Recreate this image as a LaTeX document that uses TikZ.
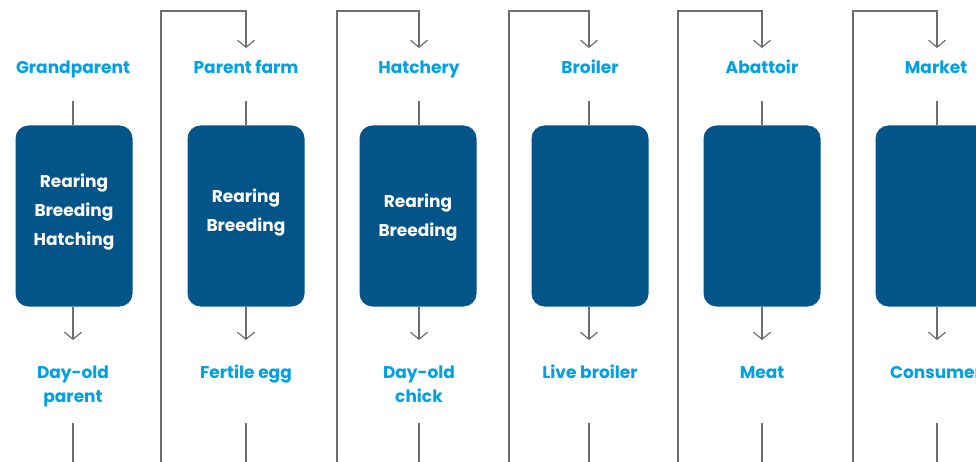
\documentclass[tikz,border=0pt]{standalone}
\usepackage{fontspec}
\setmainfont{Poppins}
\usetikzlibrary{arrows.meta,calc,positioning}
\definecolor{stagecyan}{RGB}{0,160,228}
\definecolor{boxblue}{RGB}{3,84,137}
\definecolor{linkgrey}{RGB}{110,110,110}
\tikzset{
  stage/.style={font=\bfseries\fontsize{17}{24}\selectfont, text=stagecyan,
                align=center, inner sep=0pt, anchor=base},
  procbox/.style={rectangle, rounded corners=13pt, fill=boxblue,
                  minimum width=117pt, minimum height=181pt},
  boxtext/.style={text=white, align=center,
                  font=\bfseries\fontsize{17}{29}\selectfont},
  link/.style={draw=linkgrey, line width=1.2pt},
  flow/.style={link, -{Straight Barb[length=7pt,width=17pt]}}
}

\begin{document}
\begin{tikzpicture}[x=1pt,y=-1pt]
  \path[use as bounding box, fill=white] (0,0) rectangle (976,462);
  \clip (0,0) rectangle (976,462);

  % stages along the top
  \node[stage] (st1) at (73,74) {Grandparent};
  \node[stage] (st2) at (246,74) {Parent farm};
  \node[stage] (st3) at (419,74) {Hatchery};
  \node[stage] (st4) at (590,74) {Broiler};
  \node[stage] (st5) at (762,74) {Abattoir};
  \node[stage] (st6) at (936,74) {Market};

  % what goes on at each stage
  \node[procbox, label={[boxtext, yshift=4pt]center:Rearing\\Breeding\\Hatching}]
    (pb1) at (74,216) {};
  \node[procbox, label={[boxtext, yshift=3pt]center:Rearing\\Breeding}]
    (pb2) at (246,216) {};
  \node[procbox, label={[boxtext, yshift=-2pt]center:Rearing\\Breeding}]
    (pb3) at (418,216) {};
  \node[procbox] (pb4) at (590,216) {};
  \node[procbox] (pb5) at (762,216) {};
  \node[procbox] (pb6) at (934,216) {};

  % products handed on (base = last line)
  \node[stage] (pr1) at (73,402) {Day-old\\parent};
  \node[stage] (pr2) at (246,378) {Fertile egg};
  \node[stage] (pr3) at (419,402) {Day-old\\chick};
  \node[stage] (pr4) at (590,378) {Live broiler};
  \node[stage] (pr5) at (762,378) {Meat};
  \node[stage] (pr6) at (936,378) {Consumer};

  % stubs above and below each box
  \foreach \i/\x in {1/73,2/246,3/419,4/589,5/762,6/937} {
    \coordinate (up\i) at (\x,101);
    \coordinate (tip\i) at (\x,340);
    \coordinate (dn\i) at (\x,423);
    \coordinate (end\i) at (\x,470);
    \draw[link] (up\i) -- (pb\i.north -| up\i);
    \draw[flow] (pb\i.south -| tip\i) -- (tip\i);
    \draw[link] (dn\i) -- (end\i);
  }

  % hand-over from one stage to the next
  \foreach \i/\j/\r in {1/2/161,2/3/337,3/4/509,4/5/678,5/6/853} {
    \coordinate (rise\i) at (\r,470);
    \coordinate (in\j) at ($(up\j)+(0,-53)$);
    \draw[flow] (rise\i) |- ($(up\j)+(0,-90)$) -- (in\j);
  }
\end{tikzpicture}
\end{document}
